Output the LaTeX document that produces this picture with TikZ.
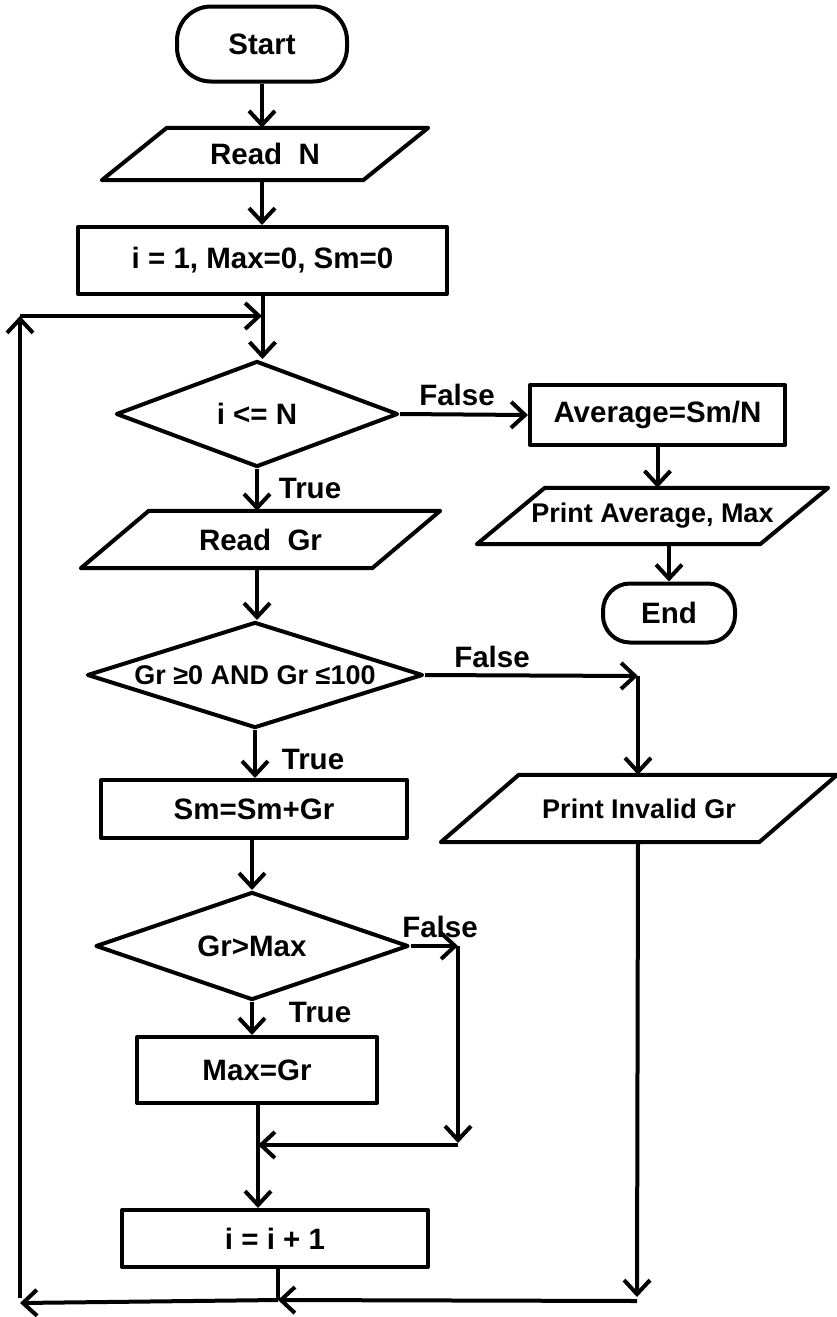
\documentclass[tikz,border=0pt]{standalone}
\usepackage{fontspec}
\setmainfont{Liberation Sans}
\usetikzlibrary{arrows.meta,shapes.geometric}
\tikzset{
  base/.style={font=\fontsize{29.5}{32}\selectfont\bfseries, inner sep=0pt},
  small/.style={font=\fontsize{27}{30}\selectfont\bfseries},
  shp/.style={line width=4pt, line join=round},
  proc/.style={base, shp, draw, rectangle, minimum width=#1},
  term/.style={base, shp, draw, rectangle},
  iobox/.style={base, rectangle},
  dec/.style={base, shp, draw, diamond},
  lbl/.style={base},
  conn/.style={line width=4pt, -{Straight Barb[length=14pt,width=26pt]}},
  plain/.style={line width=4pt}
}
\begin{document}
\begin{tikzpicture}[x=1pt,y=-1pt]
\useasboundingbox (0,0) rectangle (836,1317);
% terminals
\node[term, minimum width=170pt, minimum height=75pt, rounded corners=34pt] (start) at (262,44) {Start};
\node[term, minimum width=132pt, minimum height=59pt, rounded corners=27pt] (end) at (669,613) {End};
% process boxes
\node[proc=369pt, minimum height=67pt] (init) at (262.5,260.5) {i = 1, Max=0, Sm=0};
\node[proc=255pt, minimum height=60pt] (avg) at (657.5,415) {Average=Sm/N};
\node[proc=306pt, minimum height=58pt] (sm) at (254,809) {Sm=Sm+Gr};
\node[proc=240pt, minimum height=66pt] (max) at (257,1070) {Max=Gr};
\node[proc=306pt, minimum height=57pt] (inc) at (275,1238.5) {i = i + 1};
% input/output
\node[iobox, minimum width=261pt, minimum height=52pt] (readn) at (265,154) {Read\ \ N};
\node[iobox, minimum width=291pt, minimum height=57pt] (readgr) at (260.5,539.5) {Read\ \ Gr};
\node[iobox, small, minimum width=283pt, minimum height=56pt] (pavg) at (652.5,516) {Print Average, Max};
\node[iobox, small, minimum width=318pt, minimum height=67pt] (pinv) at (639,808.5) {Print Invalid Gr};
\foreach \n/\s in {readn/32.5, readgr/34, pavg/34, pinv/39}{
  \draw[shp] ([xshift=\s pt]\n.north west) -- ([xshift=\s pt]\n.north east)
     -- ([xshift=-\s pt]\n.south east) -- ([xshift=-\s pt]\n.south west) -- cycle;
}
% decisions
\node[dec, minimum width=282pt, minimum height=106pt, aspect=2.66] (d1) at (257,414) {i <= N};
\node[dec, small, minimum width=336pt, minimum height=106pt, aspect=3.17] (d2) at (255,675) {Gr ≥0 AND Gr ≤100};
\node[dec, minimum width=313pt, minimum height=108pt, aspect=2.9] (d3) at (252,946) {Gr>Max};
% labels
\node[lbl] (f1) at (457,395) {False};
\node[lbl] (t1) at (310,488) {True};
\node[lbl] (f2) at (492,657) {False};
\node[lbl] (t2) at (313,759) {True};
\node[lbl] (f3) at (440,927) {False};
\node[lbl] (t3) at (320,1012) {True};
% helper coordinates
\coordinate (loopin) at (262,316);
\coordinate (loopleft) at (20,316);
\coordinate (c1) at (638,676);
\coordinate (c2) at (458,946);
\coordinate (c3) at (458,1143);
\coordinate (c4) at (258,1145);
\coordinate (c5) at (278,1300);
\coordinate (c6) at (637,1297);
\coordinate (c7) at (637,1301);
\coordinate (c8) at (20,1303);
\coordinate (c9) at (20,1298);
% connectors
\draw[conn] (start.south) -- (start.south |- readn.north);
\draw[conn] (readn.south -| start.south) -- (start.south |- init.north);
\draw[conn] (init.south) -- (init.south |- d1.north);
\draw[conn] (d1.east) -- (avg.west);
\draw[conn] (avg.south) -- (avg.south |- pavg.north);
\draw[conn] (end.north |- pavg.south) -- (end.north);
\draw[conn] (d1.south) -- (d1.south |- readgr.north);
\draw[conn] (d1.south |- readgr.south) -- (d1.south |- d2.north);
\draw[conn] (d2.east) -- (c1);
\draw[conn] (c1) -- (c1 |- pinv.north);
\draw[conn] (d2.south) -- (d2.south |- sm.north);
\draw[conn] (sm.south -| d3.north) -- (d3.north);
\draw[conn] (d3.east) -- (c2);
\draw[conn] (c2) -- (c3);
\draw[conn] (c3 |- c4) -- (c4);
\draw[conn] (d3.south) -- (d3.south |- max.north);
\draw[conn] (max.south -| c4) -- (c4 |- inc.north);
\draw[plain] (c5 |- inc.south) -- (c5);
\draw[conn] (c1 |- pinv.south) -- (c6);
\draw[conn] (c7) -- (c5);
\draw[conn] (c5) -- (c8);
\draw[conn] (c9) -- (loopleft);
\draw[conn] (loopleft) -- (loopin);
\end{tikzpicture}
\end{document}
